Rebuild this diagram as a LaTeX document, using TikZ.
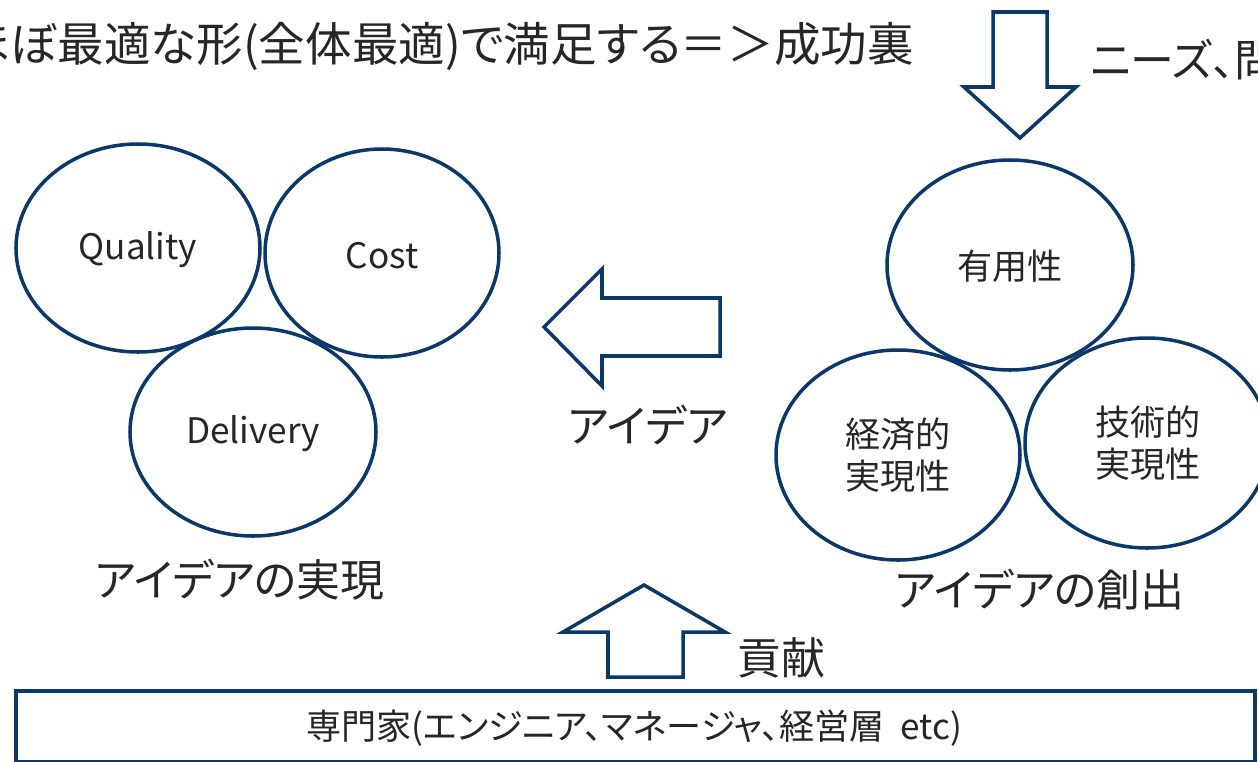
\documentclass[tikz,border=0pt]{standalone}
\usepackage{fontspec}
\setmainfont{Noto Sans CJK JP}[RawFeature=+palt]
\definecolor{navy}{RGB}{12,55,105}
\definecolor{txt}{RGB}{38,38,38}
\tikzset{
  shapeline/.style={draw=navy, line width=2pt, line join=miter},
  lbl/.style={text=txt, inner sep=0pt, align=center},
  big/.style={lbl, font=\fontsize{25pt}{30pt}\selectfont},
  top/.style={lbl, font=\fontsize{26.5pt}{30pt}\selectfont},
  mid/.style={lbl, font=\fontsize{20pt}{24pt}\selectfont},
  small/.style={lbl, font=\fontsize{20pt}{24pt}\selectfont},
}
\begin{document}
\begin{tikzpicture}[x=0.02cm, y=-0.02cm]
\useasboundingbox (0,0) rectangle (1258,761);
\clip (0,0) rectangle (1258,761);
% top text
\node[top, anchor=west] (top) at (-37,46) {ほぼ最適な形(全体最適)で満足する＝＞成功裏};
\node[big, anchor=west] (needs) at (1090,60) {ニーズ、問題};
% down arrow
\draw[shapeline] (993,12) -- (1047,12) -- (1047,87) -- (1076,87) -- (1020,138) -- (964,87) -- (993,87) -- cycle;
% left ellipses
\draw[shapeline] (138,248) ellipse [x radius=122, y radius=104];
\draw[shapeline] (382,253) ellipse [x radius=117, y radius=104];
\draw[shapeline] (253,432) ellipse [x radius=123, y radius=104];
\node[mid] (q) at (138,250) {Quality};
\node[mid] (c) at (382,256) {Cost};
\node[mid] (d) at (253,434) {Delivery};
\node[big] (real) at (240,580) {アイデアの実現};
% right ellipses
\draw[shapeline] (1010,265) ellipse [x radius=123, y radius=105];
\draw[shapeline] (898,455) ellipse [x radius=122, y radius=105];
\draw[shapeline] (1147,443) ellipse [x radius=122, y radius=105];
\node[mid] (u) at (1010,266) {有用性};
\node[mid] (e) at (898,455) {経済的\\実現性};
\node[mid] (t) at (1148,443) {技術的\\実現性};
\node[big] (cre) at (1040,590) {アイデアの創出};
% left arrow
\draw[shapeline] (720,298) -- (720,356) -- (602,356) -- (602,386) -- (544,327) -- (602,269) -- (602,298) -- cycle;
\node[big] (idea) at (648,425) {アイデア};
% up arrow
\draw[shapeline] (608,677) -- (683,677) -- (683,632) -- (725,632) -- (644,585) -- (563,632) -- (608,632) -- cycle;
\node[big] (kou) at (781,658) {貢献};
% bottom box
\draw[draw=navy, line width=2.2pt] (16,691) rectangle (1255,762);
\node[small] (exp) at (634,728) {専門家(エンジニア、マネージャ、経営層\ \ etc)};
\end{tikzpicture}
\end{document}
